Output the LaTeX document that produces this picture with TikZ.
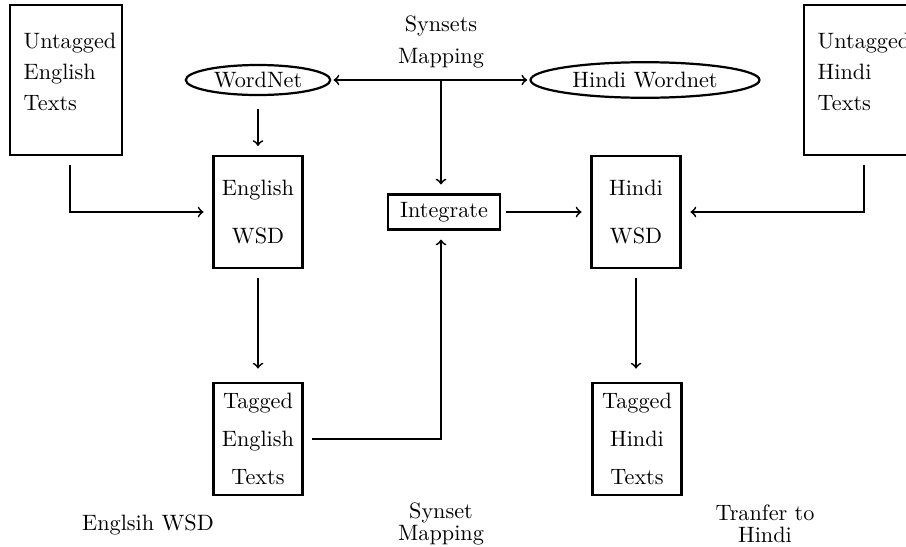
\documentclass[tikz,border=0pt]{standalone}
\usepackage{tikz}
\usetikzlibrary{shapes.geometric}

\begin{document}
\begin{tikzpicture}[x=0.45pt,y=-0.45pt,
	box/.style={draw,line width=1pt,minimum width=40pt,minimum height=50.4pt,align=center},
	bigbox/.style={draw,line width=1pt,minimum width=50.4pt,minimum height=67.5pt},
	net/.style={draw,line width=1pt,ellipse,inner sep=1pt},
	arr/.style={->,thick,shorten <=4pt,shorten >=4pt}]
	\useasboundingbox (0,0) rectangle (906,546);
	% text sources
	\node [bigbox] (uen) at (66,80) {};
	\node [align=left] (uentext) at (70,72) {Untagged\\[2pt]English\\[2pt]Texts};
	\node [bigbox] (uhi) at (860,80) {};
	\node [align=left] (uhitext) at (864,72) {Untagged\\[2pt]Hindi\\[2pt]Texts};
	% wordnets
	\node [net,minimum width=65pt,minimum height=13.5pt] (wn) at (258,80) {WordNet};
	\node [net,minimum width=103pt,minimum height=16pt] (hwn) at (645,80) {Hindi Wordnet};
	\node [align=center] (synmap) at (441,42) {Synsets\\[2pt]Mapping};
	% wsd
	\node [box] (ewsd) at (258,212) {English\\[10pt]WSD};
	\node [draw,line width=1pt,minimum width=50.4pt,minimum height=15.75pt] (integ) at (444,212) {Integrate};
	\node [box] (hwsd) at (636,212) {Hindi\\[10pt]WSD};
	\node [box] (teng) at (258,439) {Tagged\\[5pt]English\\[5pt]Texts};
	\node [box] (thin) at (637,439) {Tagged\\[5pt]Hindi\\[5pt]Texts};
	% captions
	\node (capeng) at (148,525) {Englsih WSD};
	\node [align=center] (capsyn) at (441,524) {Synset\\[-2pt]Mapping};
	\node [align=center] (captr) at (765,524) {Tranfer to\\[-2pt]Hindi};
	% arrows
	\draw [<->,thick,shorten <=1pt,shorten >=1pt] (wn.east) -- (hwn.west);
	\draw [->,thick,shorten >=4pt] (synmap.south |- wn.east) -- (synmap.south |- integ.north);
	\draw [arr,shorten <=6pt] (ewsd.north |- wn.south) -- (ewsd.north);
	\draw [arr] (uentext |- uen.south) |- (ewsd.west);
	\draw [arr] (uhitext |- uhi.south) |- (hwsd.east);
	\draw [arr,shorten <=2pt] (integ.east) -- (hwsd.west);
	\draw [arr,shorten >=6pt] (ewsd.south) -- (teng.north);
	\draw [arr] (teng.east) -| (synmap.south |- integ.south);
	\draw [arr,shorten >=6pt] (hwsd.south) -- (hwsd.south |- thin.north);
\end{tikzpicture}
\end{document}
